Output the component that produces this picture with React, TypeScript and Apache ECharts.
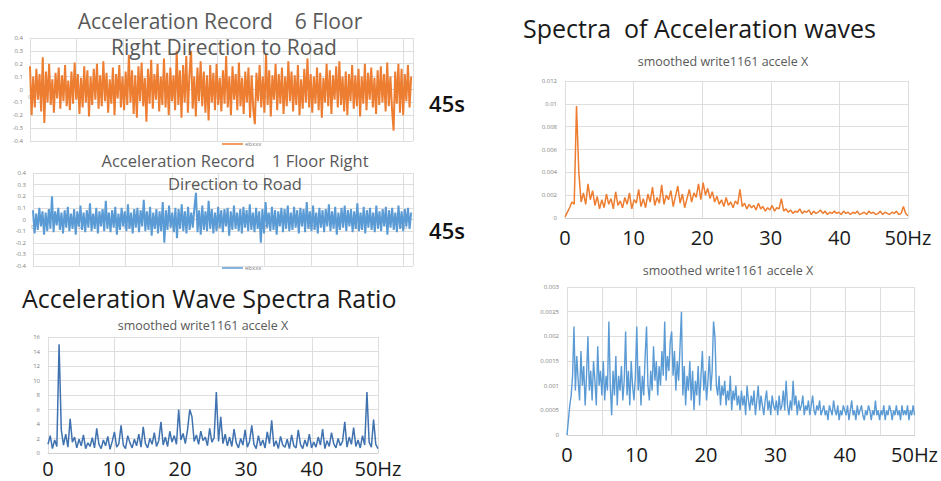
import React, { useEffect, useRef } from "react";
import * as echarts from "echarts";

// ---- Data ----
// 6th floor acceleration record (g), sampled evenly over the record duration
const floor6Accel = [
  0.18, -0.2, 0.1, -0.14, 0.16, -0.08, 0.12, -0.17, 0.25, -0.26, 0.14, -0.1, 0.2, -0.12, 0.08, -0.18, 0.13, -0.07, 0.17, -0.15,
  0.11, -0.09, 0.19, -0.13, 0.07, -0.16, 0.14, -0.11, 0.21, -0.08, 0.12, -0.19, 0.09, -0.14, 0.18, -0.1, 0.15, -0.21, 0.1, -0.12,
  0.16, -0.08, 0.2, -0.15, 0.11, -0.13, 0.22, -0.09, 0.13, -0.18, 0.08, -0.11, 0.17, -0.2, 0.12, -0.07, 0.19, -0.14, 0.1, -0.16,
  0.14, -0.12, 0.27, -0.1, 0.15, -0.19, 0.11, -0.22, 0.18, -0.09, 0.21, -0.13, 0.09, -0.25, 0.16, -0.11, 0.23, -0.15, 0.12, -0.08,
  0.2, -0.17, 0.1, -0.12, 0.24, -0.14, 0.13, -0.2, 0.17, -0.09, 0.11, -0.16, 0.3, -0.12, 0.15, -0.22, 0.19, -0.1, 0.26, -0.18,
  0.12, 0.3, -0.15, 0.1, -0.21, 0.17, -0.09, 0.22, -0.13, 0.14, -0.18, 0.11, -0.24, 0.19, -0.1, 0.13, -0.16, 0.2, -0.12, 0.09,
  -0.17, 0.15, -0.11, 0.26, -0.14, 0.1, -0.2, 0.18, -0.08, 0.12, -0.16, 0.21, -0.13, 0.09, -0.19, 0.14, -0.1, 0.17, -0.22, 0.11,
  -0.15, -0.27, 0.13, -0.09, 0.19, -0.14, 0.1, -0.18, 0.28, -0.12, 0.15, -0.21, 0.11, -0.08, 0.2, -0.16, 0.12, -0.11, 0.17, -0.19,
  0.1, -0.13, 0.22, -0.09, 0.14, -0.17, 0.11, -0.12, 0.19, -0.2, 0.08, -0.15, 0.16, -0.1, 0.24, -0.14, 0.12, -0.18, 0.1, -0.11,
  0.17, -0.16, 0.13, -0.22, 0.09, -0.1, 0.2, -0.13, 0.15, -0.19, 0.11, -0.08, 0.18, -0.14, 0.22, -0.12, 0.1, -0.17, 0.14, -0.2,
  0.12, -0.09, 0.19, -0.15, 0.11, -0.13, 0.16, -0.21, 0.1, -0.11, 0.2, -0.16, 0.13, -0.08, 0.17, -0.14, 0.09, -0.19, 0.15, -0.12,
  0.18, -0.1, 0.12, -0.17, 0.21, -0.13, 0.1, -0.15, -0.32, 0.14, -0.11, 0.2, -0.18, 0.16, -0.2, 0.12, -0.09, 0.19, -0.14, 0.1,
];

// 1st floor acceleration record (g)
const floor1Accel = [
  0.08, -0.12, 0.05, -0.09, 0.1, -0.06, 0.07, -0.13, 0.06, -0.1, 0.09, -0.08, 0.2, -0.11, 0.07, -0.05, 0.1, -0.09, 0.06, -0.12,
  0.08, -0.07, 0.11, -0.1, 0.05, -0.08, 0.09, -0.13, 0.07, -0.06, 0.12, -0.09, 0.06, -0.11, 0.08, -0.07, 0.14, -0.1, 0.05, -0.08,
  0.1, -0.12, 0.07, -0.06, 0.09, -0.1, 0.16, -0.08, 0.06, -0.11, 0.08, -0.07, 0.11, -0.13, 0.05, -0.09, 0.1, -0.06, 0.07, -0.1,
  0.13, -0.08, 0.06, -0.12, 0.09, -0.07, 0.1, -0.11, 0.08, -0.06, 0.17, -0.1, 0.07, -0.09, 0.11, -0.14, 0.06, -0.08, 0.09, -0.12,
  0.07, -0.1, 0.15, -0.2, 0.08, -0.09, 0.12, -0.07, 0.06, -0.11, 0.1, -0.16, 0.09, -0.08, 0.13, -0.1, 0.07, -0.12, 0.11, -0.09,
  0.06, -0.07, 0.1, 0.23, -0.11, 0.08, -0.13, 0.12, -0.09, 0.07, -0.1, 0.16, -0.08, 0.09, -0.12, 0.06, -0.1, 0.11, -0.07, 0.08,
  -0.11, 0.09, -0.06, 0.1, -0.14, 0.07, -0.09, 0.12, -0.08, 0.06, -0.1, 0.09, -0.12, 0.11, -0.07, 0.08, -0.1, 0.13, -0.09, 0.06,
  -0.11, 0.1, -0.08, 0.07, -0.2, 0.09, -0.12, 0.15, -0.07, 0.06, -0.1, 0.11, -0.09, 0.08, -0.13, 0.07, -0.06, 0.1, -0.11, 0.09,
  -0.08, 0.12, -0.1, 0.06, -0.09, 0.11, -0.07, 0.08, -0.12, 0.1, -0.06, 0.09, -0.11, 0.15, -0.08, 0.07, -0.1, 0.12, -0.09, 0.06,
  -0.12, 0.1, -0.07, 0.08, -0.11, 0.09, -0.06, 0.13, -0.1, 0.07, -0.08, 0.11, -0.13, 0.06, -0.09, 0.1, -0.07, 0.12, -0.1, 0.08,
  -0.06, 0.09, -0.11, 0.07, -0.08, 0.14, -0.1, 0.06, -0.09, 0.11, -0.12, 0.08, -0.07, 0.1, -0.09, 0.06, -0.11, 0.12, -0.08, 0.07,
  -0.1, 0.09, -0.06, 0.11, -0.13, 0.08, -0.07, 0.1, -0.09, 0.06, -0.11, 0.12, -0.08, 0.07, -0.1, 0.09, -0.06, 0.1, -0.08, 0.06,
];

// Spectral ratio (6F / 1F), evenly spaced 0..50 Hz
const spectraRatio = [
  1.2, 2.4, 0.6, 1.8, 0.9, 15, 3.2, 1.1, 2.6, 0.8, 4.7, 1.5, 2.2, 0.7, 1.9, 1.0, 2.5, 0.6, 1.4, 0.9,
  2.1, 0.7, 3.4, 1.2, 0.6, 1.8, 1.0, 2.3, 0.5, 1.6, 2.9, 0.8, 1.3, 3.8, 1.1, 0.6, 2.4, 1.4, 0.7, 1.9,
  1.0, 2.6, 0.8, 3.6, 1.3, 0.7, 2.0, 1.2, 2.8, 0.9, 1.7, 4.3, 1.1, 2.2, 0.9, 3.0, 1.5, 2.4, 1.2, 6.0,
  1.8, 2.7, 1.3, 3.2, 6.0, 5.0, 1.6, 2.5, 1.2, 3.0, 1.7, 2.2, 1.0, 3.4, 1.5, 2.1, 8.4, 1.6, 5.0, 1.3,
  2.6, 1.0, 2.2, 0.9, 3.3, 1.4, 0.7, 2.0, 1.1, 3.2, 0.8, 1.6, 3.8, 1.2, 0.6, 2.4, 1.0, 1.8, 0.7, 2.9,
  1.3, 4.5, 0.9, 1.7, 0.6, 2.3, 1.1, 0.8, 1.9, 0.6, 2.5, 1.0, 0.7, 3.2, 1.2, 0.6, 1.8, 0.9, 2.6, 0.7,
  1.5, 0.8, 2.2, 1.1, 3.3, 0.6, 1.7, 0.9, 2.8, 1.3, 0.7, 2.0, 1.0, 1.6, 4.3, 0.8, 2.2, 1.2, 3.5, 0.9,
  1.8, 0.7, 2.4, 1.1, 8.4, 1.5, 0.8, 4.6, 1.2, 0.6,
];

// Smoothed spectrum, 6th floor, evenly spaced 0..50 Hz
const spectrum6F = [
  0.0001, 0.0005, 0.0009, 0.0014, 0.0012, 0.0098, 0.004, 0.0014, 0.0022, 0.0012, 0.003, 0.0016, 0.0024, 0.0011, 0.0019, 0.0008, 0.0016, 0.0009, 0.0021, 0.0012,
  0.0017, 0.0008, 0.0023, 0.0011, 0.0015, 0.0009, 0.0018, 0.0012, 0.0022, 0.0008, 0.0016, 0.0013, 0.0025, 0.001, 0.0017, 0.0009, 0.0021, 0.0014, 0.0027, 0.0011,
  0.0018, 0.0013, 0.0029, 0.0012, 0.002, 0.0016, 0.0024, 0.001, 0.0019, 0.0028, 0.0013, 0.0021, 0.0009, 0.0017, 0.0025, 0.0014, 0.0022, 0.0018, 0.003, 0.0016,
  0.0031, 0.002, 0.0026, 0.0017, 0.0023, 0.0014, 0.0019, 0.0012, 0.0016, 0.001, 0.0018, 0.0011, 0.0014, 0.0009, 0.0015, 0.0012, 0.0025, 0.001, 0.0013, 0.0008,
  0.0012, 0.0009, 0.0011, 0.0007, 0.0013, 0.0008, 0.001, 0.0006, 0.0009, 0.0007, 0.0011, 0.0006, 0.0009, 0.0008, 0.0017, 0.0006, 0.0008, 0.0005, 0.0007, 0.0004,
  0.0006, 0.0005, 0.0008, 0.0004, 0.0006, 0.0005, 0.0007, 0.0003, 0.0006, 0.0004, 0.0005, 0.0007, 0.0004, 0.0006, 0.0003, 0.0005, 0.0004, 0.0006, 0.0004, 0.0005,
  0.0003, 0.0006, 0.0004, 0.0005, 0.0003, 0.0005, 0.0004, 0.0006, 0.0003, 0.0004, 0.0005, 0.0003, 0.0006, 0.0004, 0.0005, 0.0003, 0.0004, 0.0006, 0.0003, 0.0005,
  0.0004, 0.0003, 0.0005, 0.0004, 0.0006, 0.0003, 0.0004, 0.001, 0.0004, 0.0002,
];

// Smoothed spectrum, 1st floor, evenly spaced 0..50 Hz
const spectrum1F = [
  0.0, 0.0003, 0.0006, 0.0008, 0.0012, 0.0022, 0.0009, 0.0016, 0.0011, 0.0007, 0.0017, 0.001, 0.0014, 0.0006, 0.0012, 0.002, 0.0009, 0.0013, 0.0007, 0.0015, 0.0011, 0.0006, 0.0018, 0.001, 0.0013,
  0.0008, 0.0015, 0.0007, 0.0012, 0.0009, 0.0023, 0.001, 0.0004, 0.0013, 0.0008, 0.0016, 0.0006, 0.0012, 0.0009, 0.0014, 0.0007, 0.0011, 0.0021, 0.0008, 0.0013, 0.0006, 0.0015, 0.001, 0.0007, 0.0012,
  0.0022, 0.0009, 0.0014, 0.0006, 0.0012, 0.0008, 0.0016, 0.0022, 0.001, 0.0007, 0.0013, 0.0009, 0.0018, 0.0011, 0.0015, 0.0008, 0.0014, 0.001, 0.0017, 0.0012, 0.0023, 0.0011, 0.0016, 0.0013, 0.0019,
  0.0021, 0.0012, 0.0017, 0.0009, 0.0015, 0.0011, 0.0018, 0.0025, 0.0008, 0.0014, 0.0006, 0.0012, 0.0009, 0.0015, 0.0007, 0.0013, 0.0005, 0.0011, 0.0008, 0.0014, 0.0006, 0.0012, 0.0017, 0.0009, 0.0013,
  0.0007, 0.0011, 0.0016, 0.0009, 0.0013, 0.0023, 0.002, 0.001, 0.0008, 0.0012, 0.0006, 0.001, 0.0008, 0.0011, 0.0006, 0.0009, 0.0007, 0.0012, 0.0005, 0.0009, 0.0007, 0.001, 0.0006, 0.0008, 0.0005,
  0.0009, 0.0006, 0.0008, 0.0004, 0.001, 0.0007, 0.0005, 0.0008, 0.0006, 0.0009, 0.0004, 0.0007, 0.001, 0.0005, 0.0008, 0.0006, 0.0004, 0.0007, 0.0009, 0.0005, 0.0007, 0.0004, 0.0008, 0.0006, 0.0005,
  0.0007, 0.0004, 0.0008, 0.0005, 0.0006, 0.0009, 0.0005, 0.0011, 0.0006, 0.0004, 0.0007, 0.0005, 0.0011, 0.0006, 0.0008, 0.0004, 0.0007, 0.0005, 0.0006, 0.0008, 0.0004, 0.0006, 0.0005, 0.0007, 0.0004,
  0.0006, 0.0008, 0.0005, 0.0004, 0.0006, 0.0005, 0.0007, 0.0004, 0.0005, 0.0006, 0.0004, 0.0005, 0.0003, 0.0006, 0.0005, 0.0004, 0.0007, 0.0005, 0.0004, 0.0006, 0.0003, 0.0005, 0.0004, 0.0006, 0.0005,
  0.0004, 0.0006, 0.0003, 0.0005, 0.0007, 0.0004, 0.0005, 0.0003, 0.0006, 0.0004, 0.0005, 0.0006, 0.0004, 0.0003, 0.0005, 0.0004, 0.0006, 0.0005, 0.0003, 0.0005, 0.0004, 0.0007, 0.0004, 0.0005, 0.0003,
  0.0005, 0.0004, 0.0006, 0.0003, 0.0005, 0.0004, 0.0006, 0.0005, 0.0003, 0.0005, 0.0004, 0.0006, 0.0004, 0.0005, 0.0003, 0.0006, 0.0004, 0.0005, 0.0004, 0.0006, 0.0003, 0.0005, 0.0004, 0.0006, 0.0004,
];

const recordDuration = 40.8; // s
const maxFrequency = 50; // Hz
const freqTickLabels = ["0", "10", "20", "30", "40", "50Hz"];
const legendName = "ebxxx";

const ORANGE = "#ED7D31";
const BLUE = "#5B9BD5";
const RATIO_BLUE = "#3F72AF";
const GRID = "#dedede";
const FONT = "Open Sans, sans-serif";

const toPairs = (vals: number[], span: number) =>
  vals.map((v, i) => [(i * span) / (vals.length - 1), v]);

const freqLabel = (v: number) => {
  if (v % 10 !== 0) return "";
  return freqTickLabels[Math.round(v / 10)] ?? "";
};

// x axis drawn through the middle (value 0) of a symmetric -0.4..0.4 grid
function timeXAxis(gridIndex: number, gridHeight: number) {
  return {
    type: "value",
    gridIndex,
    min: 0,
    max: 41,
    interval: 5,
    offset: -gridHeight / 2,
    axisLine: { show: true, onZero: false, lineStyle: { color: "#d0d0d0" } },
    axisTick: { show: false },
    axisLabel: { fontSize: 6, color: "#808080", margin: 4, showMaxLabel: false, fontFamily: FONT },
    splitLine: { show: true, lineStyle: { color: GRID } },
  };
}

function timeYAxis(gridIndex: number) {
  return {
    type: "value",
    gridIndex,
    min: -0.4,
    max: 0.4,
    interval: 0.1,
    axisLine: { show: false, onZero: false },
    axisTick: { show: false },
    axisLabel: { fontSize: 6, color: "#808080", margin: 7, fontFamily: FONT },
    splitLine: { show: true, lineStyle: { color: GRID } },
  };
}

function freqXAxis(gridIndex: number, interval: number, margin: number) {
  return {
    type: "value",
    gridIndex,
    min: 0,
    max: maxFrequency,
    interval,
    axisLine: { show: true, lineStyle: { color: "#d0d0d0" } },
    axisTick: { show: false },
    axisLabel: { fontSize: 20, color: "#1a1a1a", margin, formatter: freqLabel, fontFamily: FONT },
    splitLine: { show: true, lineStyle: { color: GRID } },
  };
}

function freqYAxis(gridIndex: number, max: number, interval: number) {
  return {
    type: "value",
    gridIndex,
    min: 0,
    max,
    interval,
    axisLine: { show: false },
    axisTick: { show: false },
    axisLabel: { fontSize: 6, color: "#808080", margin: 8, fontFamily: FONT },
    splitLine: { show: true, lineStyle: { color: GRID } },
  };
}

function text(t: string, x: number, y: number, size: number, color: string, align = "center", weight = "normal") {
  return {
    type: "text",
    x,
    y,
    z: 10,
    style: {
      text: t,
      fontSize: size,
      fontFamily: FONT,
      fontWeight: weight,
      fill: color,
      textAlign: align,
      textVerticalAlign: "middle",
    },
  };
}

function legendLine(x: number, y: number, color: string) {
  return [
    { type: "line", z: 10, shape: { x1: x, y1: y, x2: x + 21, y2: y }, style: { stroke: color, lineWidth: 1.5 } },
    text(legendName, x + 23, y, 6, "#808080", "left"),
  ];
}

function lineSeries(name: string, data: number[][], idx: number, color: string, width = 1) {
  return {
    name,
    type: "line",
    xAxisIndex: idx,
    yAxisIndex: idx,
    data,
    showSymbol: false,
    symbol: "none",
    lineStyle: { color, width },
    itemStyle: { color },
    emphasis: { disabled: true },
  };
}

export default function App() {
  const ref = useRef<HTMLDivElement>(null);

  useEffect(() => {
    if (!ref.current) return;
    const chart = echarts.init(ref.current, undefined, { renderer: "svg" });
    const option = {
      animation: false,
      backgroundColor: "#ffffff",
      textStyle: { fontFamily: FONT },
      grid: [
        { left: 30, top: 38, width: 383, height: 103 },
        { left: 33, top: 173, width: 380, height: 93 },
        { left: 48, top: 337, width: 330, height: 116 },
        { left: 565, top: 81, width: 343, height: 137 },
        { left: 567, top: 287, width: 349, height: 148 },
      ],
      xAxis: [
        timeXAxis(0, 103),
        timeXAxis(1, 93),
        freqXAxis(2, 10, 5),
        freqXAxis(3, 10, 9),
        freqXAxis(4, 5, 9),
      ],
      yAxis: [
        timeYAxis(0),
        timeYAxis(1),
        freqYAxis(2, 16, 2),
        freqYAxis(3, 0.012, 0.002),
        freqYAxis(4, 0.003, 0.0005),
      ],
      series: [
        lineSeries("6F", toPairs(floor6Accel, recordDuration), 0, ORANGE, 2),
        lineSeries("1F", toPairs(floor1Accel, recordDuration), 1, BLUE, 2),
        lineSeries("ratio", toPairs(spectraRatio, maxFrequency), 2, RATIO_BLUE, 1.5),
        lineSeries("spec6F", toPairs(spectrum6F, maxFrequency), 3, ORANGE, 1.5),
        lineSeries("spec1F", toPairs(spectrum1F, maxFrequency), 4, BLUE, 1.4),
      ],
      graphic: [
        text("Acceleration Record    6 Floor", 220, 21, 21, "#595959"),
        text("Right Direction to Road", 224, 47, 21, "#595959"),
        text("45s", 447, 103, 22, "#111111", "center", "600"),
        ...legendLine(222, 144, ORANGE),
        text("Acceleration Record    1 Floor Right", 235, 160, 16.5, "#595959"),
        text("Direction to Road", 235, 183, 16.5, "#595959"),
        text("45s", 447, 230, 22, "#111111", "center", "600"),
        ...legendLine(222, 268, BLUE),
        text("Acceleration Wave Spectra Ratio", 22, 298, 25, "#1a1a1a", "left"),
        text("smoothed write1161 accele X", 203, 325, 12.5, "#595959"),
        text("Spectra  of Acceleration waves", 523, 28, 25, "#1a1a1a", "left"),
        text("smoothed write1161 accele X", 723, 61, 12.5, "#595959"),
        text("smoothed write1161 accele X", 728, 270, 12.5, "#595959"),
      ],
    };
    chart.setOption(option as any);
    return () => chart.dispose();
  }, []);

  return (
    <div
      ref={ref}
      style={{ position: "absolute", left: 0, top: 0, width: 941, height: 481, background: "#fff" }}
    />
  );
}
